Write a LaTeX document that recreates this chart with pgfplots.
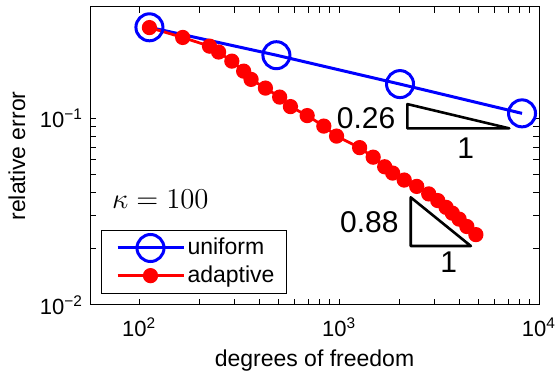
\documentclass[border=0pt]{standalone}
\usepackage{pgfplots}
\pgfplotsset{compat=1.18}
\usepackage{fontspec}
\setmainfont{Liberation Sans}
\begin{document}
\begin{tikzpicture}
\begin{axis}[
  name=ax, at={(0,0)}, anchor=south west,
  scale only axis, width=224.5pt, height=149pt,
  xmode=log, ymode=log,
  xmin=56.8, xmax=10000, ymin=0.01, ymax=0.393,
  xtick={100,1000,10000},
  xticklabels={10\textsuperscript{2},10\textsuperscript{3},10\textsuperscript{4}},
  ytick={0.01,0.1},
  yticklabels={10\textsuperscript{−2},10\textsuperscript{−1}},
  tick align=inside, major tick length=3.2pt, minor tick length=3.2pt,
  axis line style={line width=0.5pt},
  every tick/.style={line width=0.5pt, black},
  ticklabel style={font=\fontsize{11}{13}\selectfont},
  xticklabel style={yshift=-3pt},
  label style={font=\fontsize{11.5}{13}\selectfont},
  xlabel={degrees of freedom}, ylabel={relative error},
  xlabel style={at={(axis description cs:0.5,-0.1879)}, anchor=center},
  ylabel style={at={(axis description cs:-0.1626,0.5)}, anchor=center},
  clip=false,
  legend style={at={(axis description cs:0,0)}, anchor=south west,
    xshift=5.5pt, yshift=5.5pt, draw=black, line width=0.5pt,
    font=\fontsize{11.5}{13}\selectfont, inner xsep=4pt, inner ysep=3pt,
    row sep=2pt, nodes={inner xsep=2pt, inner ysep=1pt}},
  legend cell align=left,
  legend image code/.code={
    \begin{pgfinterruptboundingbox}
    \draw[mark repeat=2,mark phase=2] plot coordinates {(4pt,0pt) (20.5pt,0pt) (37pt,0pt)};
    \end{pgfinterruptboundingbox}
    \pgfpathrectangle{\pgfpoint{0pt}{-3pt}}{\pgfpoint{37pt}{6pt}}\pgfusepath{use as bounding box}
  },
]
\addplot[blue, line width=1.5pt, mark=o, mark size=6.75pt] coordinates {
  (112.6,0.306) (486,0.217) (2018,0.152) (8225,0.106)
};
\addlegendentry{uniform}
\addplot[red, line width=1.4pt, mark=*, mark size=3.1pt, mark options={fill=red, draw=red}] coordinates {
  (112.6,0.305) (165.2,0.270) (224.9,0.2426) (249.8,0.2256) (290.9,0.2017)
  (333.3,0.1783) (363.0,0.1611) (428.2,0.1447) (504.5,0.1295) (571.3,0.1152)
  (692.8,0.1031) (839.0,0.0906) (971.6,0.0801) (1267,0.0695) (1481,0.0618)
  (1691,0.0549) (1854,0.0508) (2118,0.0466) (2446,0.0431) (2809,0.0393)
  (3116,0.0362) (3430,0.0333) (3685,0.0310) (3986,0.0288) (4356,0.0263)
  (4833,0.0238)
};
\addlegendentry{adaptive}
\addplot[black, line width=1.3pt, line join=round, line cap=round, forget plot] coordinates {
  (2197,0.0881) (7101,0.0881) (2197,0.1188) (2197,0.0881)
};
\addplot[black, line width=1.3pt, line join=round, line cap=round, forget plot] coordinates {
  (2283,0.02068) (4562,0.02068) (2283,0.03767) (2283,0.02068)
};
\node[anchor=east, inner sep=0pt, font=\fontsize{15}{17}\selectfont] at (axis cs:1920,0.1) {0.26};
\node[anchor=center, inner sep=0pt, font=\fontsize{15}{17}\selectfont] at (axis cs:4306,0.0691) {1};
\node[anchor=east, inner sep=0pt, font=\fontsize{15}{17}\selectfont] at (axis cs:1994,0.0279) {0.88};
\node[anchor=center, inner sep=0pt, font=\fontsize{15}{17}\selectfont] at (axis cs:3539,0.01698) {1};
\node[anchor=west, inner sep=0pt, font=\fontsize{13.7}{16}\selectfont] at (axis cs:72.98,0.0369) {$\kappa = 100$};
\end{axis}
\pgfresetboundingbox
\path ([shift={(-45pt,-34pt)}]ax.south west) rectangle ([shift={(9.5pt,3.5pt)}]ax.north east);
\end{tikzpicture}
\end{document}
